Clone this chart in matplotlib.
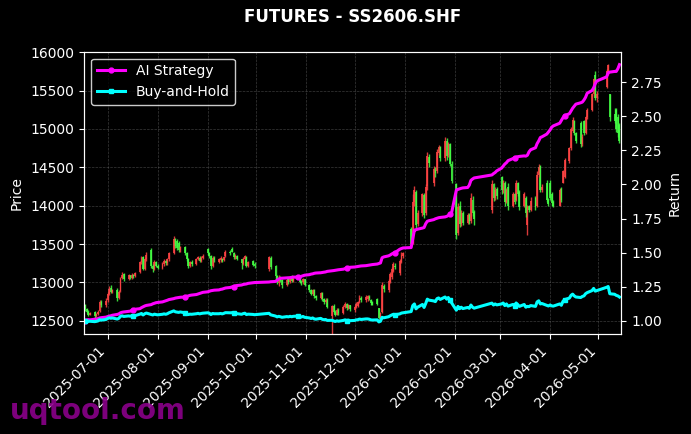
import numpy as np
import pandas as pd
import matplotlib
matplotlib.use("Agg")
import matplotlib.pyplot as plt
import matplotlib.dates as mdates

# trading calendar (SHFE), weekends and exchange holidays removed
start_date = "2025-06-17"
end_date = "2026-05-14"
holidays = [
    "2025-10-01", "2025-10-02", "2025-10-03", "2025-10-06", "2025-10-07", "2025-10-08",
    "2026-01-01", "2026-01-02",
    "2026-02-16", "2026-02-17", "2026-02-18", "2026-02-19", "2026-02-20", "2026-02-23",
    "2026-04-06",
    "2026-05-01", "2026-05-04", "2026-05-05",
]

# daily OHLC, one row per month (Jun 2025 ... May 2026)
opens = [
    12700, 12650, 12620, 12580, 12610, 12560, 12590, 12630, 12750, 12700,
    12770, 12850, 12930, 12880, 12900, 12800, 12890, 13060, 13110, 13050, 13090, 13060, 13100, 13080, 13130, 13260, 13330, 13180, 13300, 13420, 13220, 13180, 13260,
    13220, 13190, 13240, 13280, 13250, 13300, 13380, 13560, 13540, 13520, 13420, 13460, 13380, 13300, 13220, 13260, 13240, 13300, 13320, 13280, 13320,
    13440, 13380, 13340, 13220, 13320, 13270, 13290, 13310, 13290, 13340, 13400, 13440, 13380, 13330, 13350, 13300, 13240, 13310, 13330, 13220, 13280, 13240,
    13180, 13320, 13220, 13080, 12990, 13060, 13030, 12960, 13040, 13000, 13070, 13020, 13060, 13080, 13010, 13000, 13040,
    12960, 12900, 12850, 12900, 12820, 12800, 12860, 12780, 12740, 12770, 12560, 12690, 12620, 12580, 12640, 12600, 12680, 12720, 12660, 12700,
    12640, 12680, 12690, 12740, 12790, 12770, 12780, 12810, 12770, 12740, 12780, 12660, 12530, 12610, 12950, 12900, 13010, 13070, 13150, 13220, 13120, 13270, 13340,
    13700, 13520, 14050, 14180, 13760, 13900, 14140, 13900, 14260, 14640, 14300, 14470, 14450, 14690, 14760, 14620, 14850, 14660, 14800, 14550,
    14280, 13650, 14000, 13760, 13900, 13780, 13880, 13800, 14080, 13920, 13950, 14280, 14100, 14220,
    14380, 14200, 14300, 14050, 14250, 14000, 14150, 14080, 14290, 14180, 14000, 14100, 13750, 13990, 13950, 14100, 14000, 14400, 14520, 14200, 14300, 14080,
    14300, 14150, 14050, 14000, 14220, 14300, 14380, 14580, 14750, 14980, 15100, 14950, 15080, 14800, 15100, 14950, 15150, 15250, 15450, 15700, 15400,
    15550, 15750, 15450, 15200, 15250, 15150, 15050,
]
closes = [
    12650, 12620, 12580, 12600, 12560, 12590, 12620, 12750, 12700, 12760,
    12850, 12920, 12880, 12900, 12800, 12880, 13050, 13100, 13040, 13090, 13070, 13100, 13080, 13120, 13260, 13320, 13180, 13300, 13360, 13220, 13180, 13260, 13220,
    13190, 13240, 13280, 13250, 13300, 13380, 13560, 13470, 13450, 13420, 13460, 13380, 13300, 13220, 13260, 13240, 13300, 13330, 13280, 13320, 13350,
    13380, 13340, 13220, 13320, 13290, 13300, 13320, 13280, 13330, 13400, 13380, 13400, 13330, 13350, 13310, 13250, 13310, 13340, 13220, 13260, 13230, 13210,
    13330, 13200, 13080, 13000, 13060, 13020, 12960, 13030, 13000, 13060, 13020, 13050, 13080, 13010, 12990, 13040, 12970,
    12900, 12850, 12900, 12820, 12790, 12860, 12780, 12740, 12770, 12680, 12690, 12620, 12580, 12640, 12600, 12680, 12720, 12660, 12700, 12650,
    12680, 12720, 12740, 12800, 12770, 12810, 12820, 12790, 12730, 12710, 12720, 12540, 12600, 12960, 12920, 13020, 13110, 13180, 13240, 13200, 13280, 13360, 13380,
    13500, 14050, 14200, 13750, 13900, 14150, 13880, 14250, 14650, 14560, 14480, 14420, 14700, 14760, 14620, 14850, 14650, 14800, 14550, 14320,
    13620, 13980, 13760, 13900, 13780, 13880, 13800, 14100, 13900, 13820, 14280, 14100, 14200, 14120,
    14200, 14300, 14050, 14200, 14000, 14150, 14050, 14300, 14150, 13980, 14150, 13900, 13980, 13950, 14060, 13980, 14400, 14500, 14200, 14250, 14080, 14020,
    14100, 14030, 14000, 14200, 14080, 14450, 14600, 14750, 15000, 15120, 14950, 14850, 14800, 14900, 14950, 15150, 15250, 15450, 15650, 15400, 15450,
    15750, 15830, 15150, 15100, 15000, 14950, 14850,
]
highs = [
    12720, 12670, 12640, 12620, 12630, 12600, 12640, 12770, 12770, 12790,
    12870, 12950, 12960, 12920, 12930, 12900, 13070, 13130, 13120, 13110, 13100, 13120, 13110, 13140, 13280, 13350, 13350, 13320, 13390, 13450, 13240, 13290, 13280,
    13240, 13260, 13300, 13290, 13320, 13400, 13600, 13580, 13560, 13540, 13480, 13480, 13400, 13320, 13280, 13290, 13320, 13350, 13340, 13340, 13370,
    13450, 13400, 13360, 13340, 13340, 13320, 13340, 13320, 13350, 13420, 13420, 13460, 13390, 13370, 13360, 13310, 13330, 13360, 13340, 13280, 13290, 13260,
    13350, 13340, 13230, 13100, 13090, 13080, 13040, 13050, 13060, 13080, 13090, 13070, 13100, 13090, 13030, 13060, 13050,
    12980, 12920, 12920, 12920, 12840, 12880, 12870, 12790, 12790, 12790, 12710, 12720, 12640, 12660, 12660, 12700, 12740, 12730, 12720, 12710,
    12700, 12740, 12760, 12830, 12820, 12830, 12840, 12830, 12780, 12760, 12790, 12670, 12620, 13000, 12980, 13050, 13130, 13200, 13260, 13250, 13300, 13390, 13400,
    13720, 14150, 14260, 14210, 13950, 14170, 14160, 14280, 14700, 14680, 14520, 14500, 14740, 14790, 14780, 14890, 14880, 14830, 14820, 14580,
    14300, 14040, 14060, 13940, 13930, 13910, 13900, 14170, 14120, 13940, 14330, 14300, 14240, 14250,
    14390, 14330, 14320, 14230, 14290, 14180, 14170, 14330, 14310, 14200, 14180, 14120, 14010, 14010, 14110, 14120, 14450, 14550, 14530, 14280, 14330, 14100,
    14330, 14180, 14080, 14230, 14250, 14460, 14620, 14770, 15020, 15150, 15120, 14960, 15110, 14930, 15120, 15170, 15280, 15470, 15660, 15760, 15500,
    15780, 15850, 15460, 15270, 15270, 15200, 15080,
]
lows = [
    12630, 12600, 12560, 12570, 12540, 12550, 12580, 12620, 12680, 12680,
    12750, 12830, 12860, 12860, 12760, 12780, 12870, 13040, 13020, 13030, 13050, 13040, 13060, 13070, 13120, 13240, 13160, 13160, 13280, 13190, 13140, 13160, 13200,
    13170, 13170, 13220, 13230, 13230, 13280, 13370, 13450, 13420, 13400, 13400, 13360, 13280, 13190, 13200, 13220, 13230, 13290, 13260, 13260, 13300,
    13360, 13320, 13170, 13200, 13270, 13250, 13270, 13260, 13280, 13330, 13360, 13390, 13310, 13310, 13290, 13180, 13230, 13300, 13200, 13200, 13210, 13190,
    13150, 13180, 13050, 12980, 12950, 13000, 12930, 12950, 12980, 12990, 13000, 13000, 13040, 12990, 12960, 12980, 12950,
    12880, 12830, 12830, 12800, 12770, 12780, 12760, 12720, 12730, 12660, 12250, 12600, 12560, 12570, 12580, 12590, 12660, 12640, 12650, 12630,
    12620, 12660, 12680, 12730, 12750, 12750, 12760, 12770, 12710, 12700, 12700, 12520, 12520, 12600, 12880, 12870, 12990, 13050, 13130, 13170, 13090, 13250, 13320,
    13470, 13500, 14000, 13700, 13740, 13860, 13840, 13880, 14200, 14500, 14260, 14380, 14420, 14660, 14580, 14580, 14600, 14640, 14520, 14290,
    13560, 13620, 13720, 13740, 13750, 13760, 13760, 13780, 13870, 13750, 13900, 14060, 14080, 14090,
    14150, 14170, 14000, 14030, 13950, 13980, 14020, 14060, 14120, 13950, 13980, 13850, 13620, 13920, 13930, 13950, 13980, 14380, 14180, 14180, 14050, 13990,
    14080, 14000, 13980, 13990, 14050, 14290, 14360, 14560, 14720, 14960, 14920, 14820, 14760, 14780, 14920, 14930, 15130, 15230, 15430, 15380, 15350,
    15540, 15700, 15110, 15080, 14960, 14900, 14820,
]

# cumulative return curves (right axis)
ai_strategy = [
    1.000, 1.004, 1.008, 1.006, 1.010, 1.012, 1.015, 1.020, 1.022, 1.026,
    1.030, 1.034, 1.036, 1.040, 1.046, 1.050, 1.058, 1.062, 1.064, 1.068, 1.070, 1.076, 1.080, 1.084, 1.088, 1.096, 1.102, 1.108, 1.112, 1.118, 1.124, 1.128, 1.132,
    1.134, 1.138, 1.142, 1.146, 1.150, 1.155, 1.162, 1.166, 1.168, 1.170, 1.172, 1.174, 1.178, 1.182, 1.186, 1.188, 1.192, 1.196, 1.200, 1.204, 1.208,
    1.212, 1.216, 1.220, 1.222, 1.224, 1.226, 1.230, 1.232, 1.236, 1.240, 1.244, 1.248, 1.250, 1.254, 1.258, 1.262, 1.266, 1.268, 1.270, 1.274, 1.278, 1.280,
    1.284, 1.286, 1.288, 1.298, 1.306, 1.310, 1.312, 1.314, 1.315, 1.316, 1.318, 1.320, 1.320, 1.322, 1.326, 1.330, 1.334,
    1.338, 1.342, 1.344, 1.348, 1.350, 1.352, 1.354, 1.356, 1.358, 1.362, 1.366, 1.368, 1.370, 1.372, 1.374, 1.378, 1.382, 1.386, 1.388, 1.392,
    1.394, 1.396, 1.398, 1.400, 1.402, 1.404, 1.406, 1.408, 1.410, 1.412, 1.416, 1.420, 1.424, 1.462, 1.468, 1.476, 1.482, 1.490, 1.496, 1.500, 1.525, 1.530, 1.534,
    1.537, 1.600, 1.665, 1.668, 1.672, 1.680, 1.684, 1.712, 1.730, 1.734, 1.742, 1.748, 1.752, 1.756, 1.758, 1.762, 1.766, 1.772, 1.782, 1.790,
    1.960, 1.964, 1.968, 1.972, 1.975, 1.978, 1.995, 2.030, 2.040, 2.048, 2.070, 2.080, 2.088, 2.100,
    2.120, 2.135, 2.150, 2.160, 2.175, 2.190, 2.195, 2.200, 2.204, 2.206, 2.210, 2.208, 2.215, 2.240, 2.255, 2.270, 2.300, 2.320, 2.345, 2.350, 2.370, 2.385,
    2.400, 2.420, 2.430, 2.450, 2.470, 2.490, 2.505, 2.520, 2.540, 2.560, 2.575, 2.590, 2.600, 2.605, 2.620, 2.640, 2.670, 2.690, 2.710, 2.740, 2.760,
    2.790, 2.820, 2.825, 2.830, 2.830, 2.850, 2.880,
]
buy_hold = [
    1.000, 0.998, 0.994, 0.996, 0.993, 0.995, 0.998, 1.008, 1.004, 1.009,
    1.016, 1.021, 1.018, 1.020, 1.012, 1.018, 1.032, 1.036, 1.031, 1.035, 1.033, 1.036, 1.034, 1.037, 1.048, 1.053, 1.042, 1.051, 1.056, 1.045, 1.042, 1.048, 1.045,
    1.043, 1.047, 1.050, 1.047, 1.051, 1.058, 1.072, 1.065, 1.063, 1.061, 1.064, 1.058, 1.051, 1.045, 1.048, 1.047, 1.051, 1.054, 1.050, 1.053, 1.055,
    1.058, 1.055, 1.045, 1.053, 1.051, 1.051, 1.053, 1.050, 1.054, 1.059, 1.058, 1.059, 1.054, 1.055, 1.052, 1.047, 1.052, 1.055, 1.045, 1.048, 1.046, 1.044,
    1.054, 1.043, 1.034, 1.028, 1.032, 1.029, 1.025, 1.030, 1.028, 1.032, 1.029, 1.032, 1.034, 1.028, 1.027, 1.031, 1.025,
    1.020, 1.016, 1.020, 1.013, 1.011, 1.017, 1.010, 1.007, 1.009, 1.002, 1.003, 0.998, 0.994, 0.999, 0.996, 1.002, 1.006, 1.001, 1.004, 1.000,
    1.002, 1.006, 1.007, 1.012, 1.009, 1.013, 1.013, 1.011, 1.006, 1.005, 1.006, 0.991, 0.996, 1.025, 1.021, 1.029, 1.036, 1.042, 1.047, 1.043, 1.050, 1.056, 1.058,
    1.067, 1.111, 1.123, 1.087, 1.099, 1.119, 1.097, 1.126, 1.158, 1.151, 1.145, 1.140, 1.162, 1.167, 1.156, 1.174, 1.158, 1.170, 1.150, 1.132,
    1.077, 1.105, 1.088, 1.099, 1.089, 1.097, 1.091, 1.115, 1.099, 1.092, 1.129, 1.115, 1.123, 1.116,
    1.123, 1.130, 1.111, 1.123, 1.107, 1.119, 1.111, 1.130, 1.119, 1.105, 1.119, 1.099, 1.105, 1.103, 1.111, 1.105, 1.138, 1.146, 1.123, 1.126, 1.113, 1.108,
    1.115, 1.109, 1.107, 1.123, 1.113, 1.142, 1.154, 1.166, 1.186, 1.195, 1.182, 1.174, 1.170, 1.178, 1.182, 1.198, 1.206, 1.221, 1.237, 1.217, 1.221,
    1.245, 1.251, 1.198, 1.194, 1.186, 1.182, 1.174,
]

dates = pd.bdate_range(start_date, end_date)
dates = dates[~dates.isin(pd.to_datetime(holidays))]

n = len(dates)
for name, arr in [("opens", opens), ("closes", closes), ("highs", highs),
                  ("lows", lows), ("ai", ai_strategy), ("bh", buy_hold)]:
    if len(arr) != n:
        raise ValueError(f"{name}: {len(arr)} values, {n} dates")

o = np.array(opens)
c = np.array(closes)
h = np.array(highs)
l = np.array(lows)
up = c >= o
candle_colors = np.where(up, "#ff4444", "#44ff44")

plt.rcParams["font.family"] = "DejaVu Sans"

fig = plt.figure(figsize=(6.91, 4.34), dpi=100, facecolor="black")
ax = fig.add_axes([0.122, 0.2297, 0.7774, 0.6512])
ax.set_facecolor("black")

# candles: wick + body
ax.vlines(dates, l, h, colors=candle_colors, linewidth=1.0, alpha=0.85)
ax.bar(dates, np.abs(c - o), bottom=np.minimum(o, c), width=1.2,
       color=candle_colors, linewidth=0, alpha=0.85)

ax.set_ylim(12323, 16008)
ax.set_xlim(dates[0] - pd.Timedelta(hours=10), dates[-1] + pd.Timedelta(hours=30))
ax.set_ylabel("Price", color="white", fontsize=10, labelpad=5)
ax.grid(True, color="gray", linestyle="--", linewidth=0.5, alpha=0.45)

ax.xaxis.set_major_locator(mdates.MonthLocator())
ax.xaxis.set_major_formatter(mdates.DateFormatter("%Y-%m-%d"))
plt.setp(ax.get_xticklabels(), rotation=45, ha="right")

ax2 = ax.twinx()
ax2.plot(dates, ai_strategy, color="#ff00ff", linewidth=2.2, marker="o",
         markersize=3.5, markevery=22, label="AI Strategy")
ax2.plot(dates, buy_hold, color="#00ffff", linewidth=2.2, marker="s",
         markersize=3.5, markevery=22, label="Buy-and-Hold")
ax2.set_ylim(0.90, 2.975)
ax2.set_ylabel("Return", color="white", fontsize=10)

for a in (ax, ax2):
    a.tick_params(colors="white", labelsize=10)
    for s in a.spines.values():
        s.set_color("white")

leg = ax2.legend(loc="upper left", facecolor="black", edgecolor="white",
                 labelcolor="white", fontsize=10)

fig.suptitle("FUTURES - SS2606.SHF", color="white", fontsize=12,
             fontweight="bold", x=0.5107, y=0.961, va="center")

fig.text(0.015, 0.034, "uqtool.com", fontsize=20, fontweight="bold",
         color="#8b008b", alpha=0.9)

fig.savefig("out.png", dpi=100, facecolor="black")
